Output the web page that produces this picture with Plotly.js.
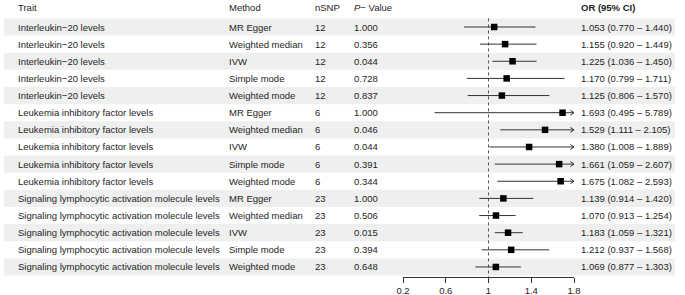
<!DOCTYPE html>
<html>
<head>
<meta charset="utf-8">
<script src="https://cdn.plot.ly/plotly-3.0.1.min.js"></script>
<style>html,body{margin:0;padding:0;background:#fff;}#chart{width:685px;height:295px;}</style>
</head>
<body>
<div id="chart"></div>
<script>
var traits = [
  "Interleukin−20 levels","Interleukin−20 levels","Interleukin−20 levels","Interleukin−20 levels","Interleukin−20 levels",
  "Leukemia inhibitory factor levels","Leukemia inhibitory factor levels","Leukemia inhibitory factor levels","Leukemia inhibitory factor levels","Leukemia inhibitory factor levels",
  "Signaling lymphocytic activation molecule levels","Signaling lymphocytic activation molecule levels","Signaling lymphocytic activation molecule levels","Signaling lymphocytic activation molecule levels","Signaling lymphocytic activation molecule levels"
];
var methods = ["MR Egger","Weighted median","IVW","Simple mode","Weighted mode",
  "MR Egger","Weighted median","IVW","Simple mode","Weighted mode",
  "MR Egger","Weighted median","IVW","Simple mode","Weighted mode"];
var nsnp = [12,12,12,12,12,6,6,6,6,6,23,23,23,23,23];
var pvals = ["1.000","0.356","0.044","0.728","0.837","1.000","0.046","0.044","0.391","0.344","1.000","0.506","0.015","0.394","0.648"];
var orv = [1.053,1.155,1.225,1.170,1.125,1.693,1.529,1.380,1.661,1.675,1.139,1.070,1.183,1.212,1.069];
var lo  = [0.770,0.920,1.036,0.799,0.806,0.495,1.111,1.008,1.059,1.082,0.914,0.913,1.059,0.937,0.877];
var hi  = [1.440,1.449,1.450,1.711,1.570,5.789,2.105,1.889,2.607,2.593,1.420,1.254,1.321,1.568,1.303];
var headers = ["Trait","Method","nSNP","<i>P</i>− Value","<b>OR (95% CI)</b>"];
var tickVals = [0.2,0.6,1,1.4,1.8];
var tickText = ["0.2","0.6","1","1.4","1.8"];

var W = 685, H = 295;
var XMIN = 0.2, XMAX = 1.8;
var FONT = "Liberation Sans, Arial, Helvetica, sans-serif";
var TXT = "#1e1e1e";
var FS = 9.5;

var rows = traits.map(function(_, i){ return i; });

// CI segments (clipped to axis range)
var cx = [], cy = [];
rows.forEach(function(i){
  cx.push(Math.max(lo[i], XMIN), Math.min(hi[i], XMAX), null);
  cy.push(i, i, null);
});

// open chevron arrowheads for CIs running past the axis maximum
var ARM_DX = 0.034, ARM_DY = 0.14;
var ax = [], ay = [];
rows.forEach(function(i){
  if (hi[i] > XMAX) {
    ax.push(XMAX - ARM_DX, XMAX, XMAX - ARM_DX, null);
    ay.push(i - ARM_DY, i, i + ARM_DY, null);
  }
});

var traces = [
  {x: cx, y: cy, mode: "lines", line: {color: "#333", width: 1}, hoverinfo: "skip", showlegend: false, cliponaxis: false},
  {x: ax, y: ay, mode: "lines", line: {color: "#333", width: 1}, hoverinfo: "skip", showlegend: false, cliponaxis: false},
  {x: orv, y: rows, mode: "markers", marker: {symbol: "square", size: 6.5, color: "#000"}, hoverinfo: "skip", showlegend: false}
];

var shapes = [];
rows.forEach(function(i){
  if (i % 2 === 0) {
    shapes.push({type: "rect", xref: "paper", yref: "y", x0: 4/W, x1: 675/W, y0: i-0.5, y1: i+0.5,
      fillcolor: "#efefef", line: {width: 0}, layer: "below"});
  }
});
shapes.push({type: "line", xref: "x", yref: "y", x0: 1, x1: 1, y0: -0.5, y1: 14.6,
  line: {color: "#555", width: 1, dash: "3px,3px"}, layer: "below"});

var colX = [16/W, 227/W, 313/W, 352/W, 579/W];
var annotations = [];
var headerY = -1.12;
headers.forEach(function(h, k){
  annotations.push({xref: "paper", yref: "y", x: colX[k], y: headerY, xanchor: "left", yanchor: "middle",
    text: h, showarrow: false, font: {family: FONT, size: FS, color: TXT}});
});
rows.forEach(function(i){
  var cols = [traits[i], methods[i], String(nsnp[i]), pvals[i],
    orv[i].toFixed(3) + " (" + lo[i].toFixed(3) + " – " + hi[i].toFixed(3) + ")"];
  cols.forEach(function(t, k){
    annotations.push({xref: "paper", yref: "y", x: colX[k], y: i, xanchor: "left", yanchor: "middle",
      text: t, showarrow: false, font: {family: FONT, size: FS, color: TXT}});
  });
});

var layout = {
  width: W, height: H,
  margin: {l: 0, r: 0, t: 0, b: 0, pad: 0},
  paper_bgcolor: "#fff", plot_bgcolor: "rgba(0,0,0,0)",
  showlegend: false,
  xaxis: {
    domain: [403/W, 574/W], range: [XMIN, XMAX], anchor: "free", position: (H-277)/H,
    tickvals: tickVals, ticktext: tickText, ticks: "outside", ticklen: 5, tickwidth: 1, tickcolor: "#333",
    showline: true, linecolor: "#333", linewidth: 1, showgrid: false, zeroline: false,
    tickfont: {family: FONT, size: FS, color: TXT}, fixedrange: true
  },
  yaxis: {
    domain: [0, 1], range: [15.636, -1.575], visible: false, showgrid: false, zeroline: false, fixedrange: true
  },
  shapes: shapes,
  annotations: annotations,
  font: {family: FONT}
};

Plotly.newPlot("chart", traces, layout, {displayModeBar: false, staticPlot: true});
</script>
</body>
</html>
